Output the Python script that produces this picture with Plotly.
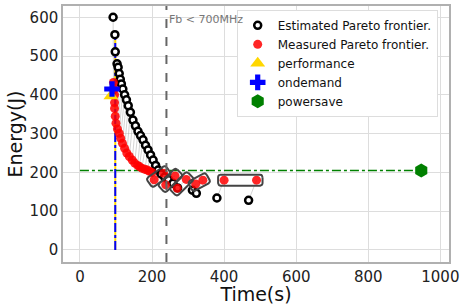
import math
import plotly.graph_objects as go

# ---------------- data ----------------
est_time = [92, 97, 98, 103, 106, 109, 112, 115, 119, 124, 129, 134, 140, 147, 154, 161,
            168, 175, 182, 189, 196, 203, 210, 217, 225, 235, 245, 258, 271, 312, 323, 380, 468]
est_energy = [600, 555, 511, 480, 471, 455, 440, 428, 415, 400, 387, 372, 355, 335, 320, 306,
              295, 284, 270, 258, 245, 232, 218, 206, 196, 188, 182, 172, 160, 154, 146, 134, 128]

meas_time = [93, 95, 96, 96, 96, 98, 100, 104, 109, 113, 118, 124, 130, 137, 145, 152,
             160, 165, 172, 180, 187, 193, 200, 206, 232, 238, 264, 270, 295, 321, 341, 400, 490]
meas_energy = [432, 415, 400, 380, 365, 345, 327, 312, 301, 288, 275, 262, 250, 241, 232, 224,
               218, 215, 211, 208, 206, 203, 200, 181, 198, 168, 191, 159, 182, 170, 180, 180, 180]

# pairs of measured points that are boxed (indices into meas lists)
box_groups = [(23, 24), (25, 26), (27, 28), (29, 30), (31, 32)]

perf_time, perf_energy = [86], [397]
ond_time, ond_energy = [89], [415]
pows_time, pows_energy = [947], [205]

vline_time = 98
vline_energy = [0, 560]
hline_energy = 205
hline_time = [0, 947]
fb_time = 240
fb_label = "Fb < 700MHz"

x_ticks = [0, 200, 400, 600, 800, 1000]
y_ticks = [0, 100, 200, 300, 400, 500, 600]
x_range = [-47, 1024]
y_range = [-31, 629]

# ---------------- figure ----------------
FONT = "DejaVu Sans"
fig = go.Figure()

# connecting lines (measured <-> estimated)
lx, ly = [], []
for et, ee, mt, me in zip(est_time, est_energy, meas_time, meas_energy):
    lx += [mt, et, None]
    ly += [me, ee, None]
fig.add_trace(go.Scatter(x=lx, y=ly, mode="lines", line=dict(color="rgba(170,170,170,0.5)", width=1),
                         showlegend=False, hoverinfo="skip"))

# reference lines
fig.add_trace(go.Scatter(x=[vline_time, vline_time], y=vline_energy, mode="lines",
                         line=dict(color="#FFD700", width=2), showlegend=False, hoverinfo="skip"))
fig.add_trace(go.Scatter(x=[vline_time, vline_time], y=vline_energy, mode="lines",
                         line=dict(color="blue", width=2, dash="dashdot"), showlegend=False, hoverinfo="skip"))
fig.add_trace(go.Scatter(x=hline_time, y=[hline_energy, hline_energy], mode="lines",
                         line=dict(color="green", width=1.5, dash="dashdot"), showlegend=False, hoverinfo="skip"))

fig.add_trace(go.Scatter(x=est_time, y=est_energy, mode="markers", name="Estimated Pareto frontier.",
                         marker=dict(symbol="circle", size=7, color="white",
                                     line=dict(color="black", width=2.5))))
fig.add_trace(go.Scatter(x=meas_time, y=meas_energy, mode="markers", name="Measured Pareto frontier.",
                         marker=dict(symbol="circle", size=9, color="rgba(255,0,0,0.85)")))

# boxes around measured pairs (computed in pixel-like space)
sx, sy = 0.3602, 0.388
for (i, j) in box_groups:
    u1, v1 = meas_time[i] * sx, meas_energy[i] * sy
    u2, v2 = meas_time[j] * sx, meas_energy[j] * sy
    L = math.hypot(u2 - u1, v2 - v1)
    du, dv = (u2 - u1) / L, (v2 - v1) / L
    nu, nv = -dv, du
    pad, hw, r = 6.0, 5.5, 2.5
    cu, cv = (u1 + u2) / 2, (v1 + v2) / 2
    half = L / 2 + pad
    pts = []
    corners = [(half - r, hw - r, 0), (-(half - r), hw - r, 90), (-(half - r), -(hw - r), 180),
               ((half - r), -(hw - r), 270)]
    for (a, b, start) in corners:
        for k in range(7):
            ang = math.radians(start + k * 15)
            pa = a + r * math.cos(ang)
            pb = b + r * math.sin(ang)
            pts.append((cu + pa * du + pb * nu, cv + pa * dv + pb * nv))
    pts.append(pts[0])
    fig.add_trace(go.Scatter(x=[p[0] / sx for p in pts], y=[p[1] / sy for p in pts], mode="lines",
                             line=dict(color="#444444", width=2), showlegend=False, hoverinfo="skip"))

fig.add_trace(go.Scatter(x=perf_time, y=perf_energy, mode="markers", name="performance",
                         marker=dict(symbol="triangle-up", size=13, color="#FFD700")))
fig.add_trace(go.Scatter(x=ond_time, y=ond_energy, mode="markers", name="ondemand",
                         marker=dict(symbol="cross", size=13, color="blue")))
fig.add_trace(go.Scatter(x=pows_time, y=pows_energy, mode="markers", name="powersave",
                         marker=dict(symbol="hexagon", size=14, color="green")))

fig.add_shape(type="line", x0=fb_time, x1=fb_time, y0=0, y1=1, xref="x", yref="paper",
              line=dict(color="#666666", width=2, dash="dash"))
fig.add_annotation(x=fb_time, y=593, text=fb_label, showarrow=False, xanchor="left", xshift=1,
                   font=dict(family=FONT, size=11, color="#777777"))

axis_common = dict(showgrid=True, gridcolor="#dddddd", gridwidth=1, showline=True, linecolor="#b0b0b0",
                   linewidth=1.5, mirror=True, zeroline=False, ticks="", automargin=False,
                   tickfont=dict(family=FONT, size=15, color="#222222"))
fig.update_xaxes(range=x_range, tickvals=x_ticks, title=dict(text="Time(s)", standoff=0,
                 font=dict(family=FONT, size=19, color="#111111")), **axis_common)
fig.update_yaxes(range=y_range, tickvals=y_ticks, title=dict(text="Energy(J)", standoff=2,
                 font=dict(family=FONT, size=19, color="#111111")), **axis_common)

fig.update_layout(
    width=461, height=305,
    margin=dict(l=63, r=12, t=6, b=43),
    plot_bgcolor="white", paper_bgcolor="white",
    font=dict(family=FONT),
    legend=dict(x=0.45, y=0.985, xanchor="left", yanchor="top", bgcolor="white",
                bordercolor="#dddddd", borderwidth=1, font=dict(family=FONT, size=12, color="#111111"),
                tracegroupgap=0),
)

fig.write_html("out.html", config={"displayModeBar": False},
               post_script="document.body.style.margin='0px';document.body.style.overflow='hidden';")
